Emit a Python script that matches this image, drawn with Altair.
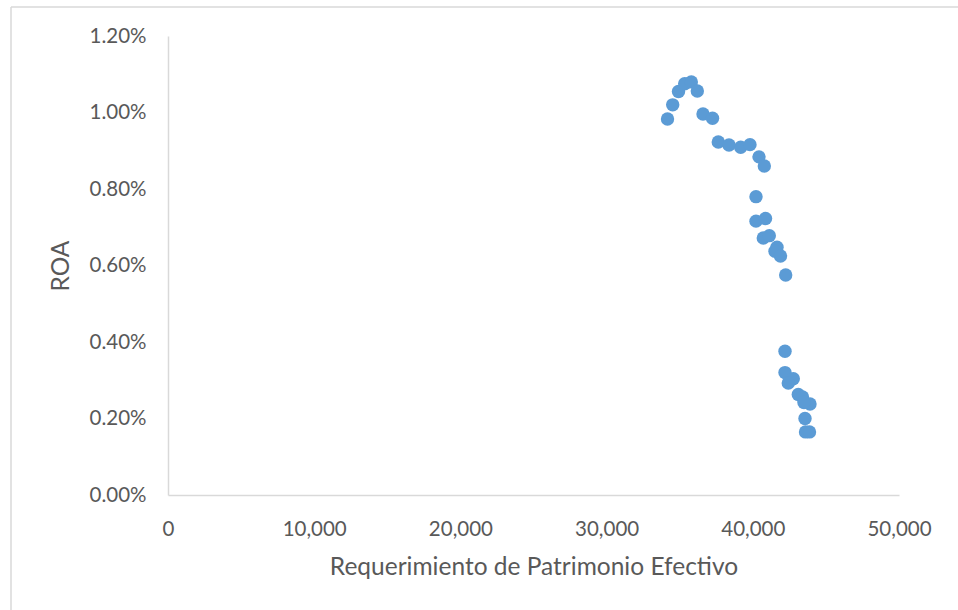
import altair as alt
import pandas as pd

# Requerimiento de Patrimonio Efectivo vs ROA
rpe = [34166, 34521, 34918, 35342, 35793, 36204, 36594, 37244, 37640, 38372,
       39172, 39808, 40424, 40787, 40219, 40219, 40869, 40718, 41129, 41655,
       41518, 41895, 42250, 42202, 42202, 42770, 42428, 43112, 43399, 43912,
       43502, 43570, 43605, 43878]
roa = [0.00983, 0.01020, 0.01055, 0.01075, 0.01080, 0.01056, 0.00996, 0.00985,
       0.00923, 0.00915, 0.00909, 0.00916, 0.00884, 0.00860, 0.00780, 0.00716,
       0.00723, 0.00672, 0.00678, 0.00648, 0.00637, 0.00625, 0.00575, 0.00376,
       0.00320, 0.00304, 0.00293, 0.00263, 0.00256, 0.00238, 0.00242, 0.00200,
       0.00165, 0.00165]

df = pd.DataFrame({"rpe": rpe, "roa": roa})

FONT = "Lato"
GREY_TEXT = "#595959"
GREY_LINE = "#D9D9D9"

points = alt.Chart(df).mark_circle(size=180, opacity=1, color="#5B9BD5").encode(
    x=alt.X(
        "rpe:Q",
        scale=alt.Scale(domain=[0, 50000], nice=False, zero=True),
        axis=alt.Axis(
            values=[0, 10000, 20000, 30000, 40000, 50000],
            format=",.0f",
            title="Requerimiento de Patrimonio Efectivo",
            grid=False,
            ticks=False,
            labelFlush=False,
            domainColor=GREY_LINE,
            domainWidth=1.5,
            labelPadding=24,
            titlePadding=16,
        ),
    ),
    y=alt.Y(
        "roa:Q",
        scale=alt.Scale(domain=[0, 0.012], nice=False),
        axis=alt.Axis(
            values=[0, 0.002, 0.004, 0.006, 0.008, 0.010, 0.012],
            format=".2%",
            title="ROA",
            grid=False,
            ticks=False,
            labelFlush=False,
            domainColor=GREY_LINE,
            domainWidth=1.5,
            labelPadding=22,
            titlePadding=16,
        ),
    ),
)

# outer chart frame (left and top edges)
frame_left = alt.Chart().mark_rule(color=GREY_LINE, strokeWidth=1.5).encode(
    x=alt.value(-157), y=alt.value(-29), y2=alt.value(600)
)
frame_top = alt.Chart().mark_rule(color=GREY_LINE, strokeWidth=1.5).encode(
    x=alt.value(-157), x2=alt.value(820), y=alt.value(-29)
)

chart = (
    alt.layer(frame_left, frame_top, points)
    .properties(
        width=731,
        height=459,
        padding={"left": 168, "top": 36, "right": 59, "bottom": 115},
        autosize=alt.AutoSizeParams(type="none"),
        background="white",
    )
    .configure_view(stroke=None)
    .configure_axis(
        labelFont=FONT,
        titleFont=FONT,
        labelColor=GREY_TEXT,
        titleColor=GREY_TEXT,
        labelFontSize=20.5,
        titleFontSize=24.5,
        titleFontWeight="normal",
    )
)

chart.save("out.html", embed_options={"renderer": "svg", "actions": False})
